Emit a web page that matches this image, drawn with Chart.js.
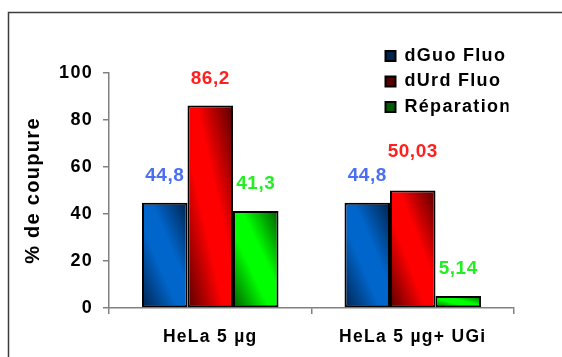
<!DOCTYPE html>
<html>
<head>
<meta charset="utf-8">
<script src="https://cdn.jsdelivr.net/npm/chart.js@4.4.1/dist/chart.umd.min.js"></script>
<style>
  html, body { margin: 0; padding: 0; background: #fff; }
  #wrap { position: relative; width: 562px; height: 357px; }
</style>
</head>
<body>
<div id="wrap"><canvas id="chart"></canvas></div>
<script>
const categories = ['HeLa 5 µg', 'HeLa 5 µg+ UGi'];
const seriesNames = ['dGuo Fluo', 'dUrd Fluo', 'Réparation'];
const dGuoFluo = [44.8, 44.8];
const dUrdFluo = [86.2, 50.03];
const reparation = [41.3, 5.14];
const yTicks = [0, 20, 40, 60, 80, 100];

const FONT = '"Liberation Sans", Arial, sans-serif';
const CAT_PCT = 0.674;

// light / dark shade of each series, used for the diagonal bar shading
const shades = [
  ['#0066cc', '#00234d'],
  ['#ff0000', '#550000'],
  ['#00ff00', '#005a00']
];
const labelColors = ['#4a6ff0', '#ff1f1f', '#22ee22'];

function barFill(ctx) {
  const ds = ctx.datasetIndex;
  const [light, dark] = shades[ds];
  const chart = ctx.chart;
  const xs = chart.scales.x, ys = chart.scales.y;
  if (ctx.type !== 'data' || !xs || !ys || !chart.chartArea) return light;

  const catW = (xs.right - xs.left) / categories.length;
  const groupW = catW * CAT_PCT;
  const barW = groupW / 3;
  const left = xs.getPixelForValue(ctx.dataIndex) - groupW / 2 + ds * barW;
  const right = left + barW;
  const top = ys.getPixelForValue(ctx.raw);
  const bottom = ys.getPixelForValue(0);

  // gradient running bottom-left -> top-right, with the bright band
  // along the top-left / bottom-right diagonal of the bar
  const w = right - left, h = bottom - top;
  const cx = (left + right) / 2, cy = (top + bottom) / 2;
  const L = Math.hypot(w, h) || 1;
  const nx = h / L, ny = -w / L;
  const d = w * h / L;
  const g = chart.ctx.createLinearGradient(cx - nx * d, cy - ny * d, cx + nx * d, cy + ny * d);
  g.addColorStop(0, dark);
  g.addColorStop(0.4, light);
  g.addColorStop(0.6, light);
  g.addColorStop(1, dark);
  return g;
}

const valueLabels = {
  id: 'valueLabels',
  afterLayout(chart) {
    // park the legend in the upper right of the plot
    const lg = chart.legend;
    if (!lg) return;
    lg.left = 378;
    lg.top = 39.5;
    lg.right = lg.left + lg.width;
    lg.bottom = lg.top + 120;
  },
  beforeDraw(chart) {
    const c = chart.ctx;
    c.letterSpacing = '1.3px';
    c.save();
    c.strokeStyle = '#3c3c3c';
    c.lineWidth = 1.5;
    c.strokeRect(8.5, 12.5, 700, 500);
    c.restore();
  },
  beforeDatasetsDraw(chart) {
    chart.ctx.letterSpacing = '0px';
  },
  afterDatasetsDraw(chart, args, opts) {
    const c = chart.ctx;
    c.save();
    c.letterSpacing = '0.5px';
    c.font = 'bold 19px ' + FONT;
    c.textAlign = 'center';
    c.textBaseline = 'middle';
    chart.data.datasets.forEach((ds, i) => {
      c.fillStyle = labelColors[i];
      chart.getDatasetMeta(i).data.forEach((bar, j) => {
        const txt = String(ds.data[j]).replace('.', ',');
        c.fillText(txt, bar.x, bar.y - opts.lift[i][j]);
      });
    });
    c.restore();
    // x tick labels are drawn after this hook
    c.letterSpacing = '1.3px';
  }
};

const series = [dGuoFluo, dUrdFluo, reparation];

new Chart(document.getElementById('chart'), {
  type: 'bar',
  data: {
    labels: categories,
    datasets: series.map((vals, i) => ({
      label: seriesNames[i],
      data: vals,
      backgroundColor: barFill,
      borderColor: '#000',
      borderWidth: 2,
      borderSkipped: false
    }))
  },
  options: {
    responsive: true,
    maintainAspectRatio: false,
    animation: false,
    layout: { padding: { top: 73, right: 48, bottom: 0, left: 0 } },
    datasets: { bar: { categoryPercentage: CAT_PCT, barPercentage: 1 } },
    scales: {
      x: {
        grid: { drawOnChartArea: false, offset: true, color: '#808080', lineWidth: 1.5, tickLength: 6 },
        border: { color: '#808080', width: 1.5 },
        ticks: {
          color: '#000',
          font: { family: FONT, size: 17.5, weight: 'bold' },
          padding: 13,
          z: 1,
          maxRotation: 0,
          autoSkip: false
        },
        afterFit: s => { s.height = 49; }
      },
      y: {
        min: 0,
        max: 100,
        afterBuildTicks: s => { s.ticks = yTicks.map(v => ({ value: v })); },
        grid: { drawOnChartArea: false, color: '#808080', lineWidth: 1.5, tickLength: 6 },
        border: { color: '#808080', width: 1.5 },
        ticks: {
          color: '#000',
          font: { family: FONT, size: 18, weight: 'bold' },
          padding: 10
        },
        title: {
          display: true,
          text: '% de coupure',
          color: '#000',
          font: { family: FONT, size: 20, weight: 'bold' },
          padding: { top: 21, bottom: 0 }
        },
        afterFit: s => { s.width = 109; }
      }
    },
    plugins: {
      legend: {
        position: 'chartArea',
        align: 'start',
        labels: {
          boxWidth: 10,
          boxHeight: 10,
          padding: 7.5,
          color: '#000',
          font: { family: FONT, size: 18, weight: 'bold' }
        }
      },
      tooltip: { enabled: false },
      valueLabels: {
        lift: [[27, 27], [27, 39], [27, 27]]
      }
    }
  },
  plugins: [valueLabels]
});
</script>
</body>
</html>
